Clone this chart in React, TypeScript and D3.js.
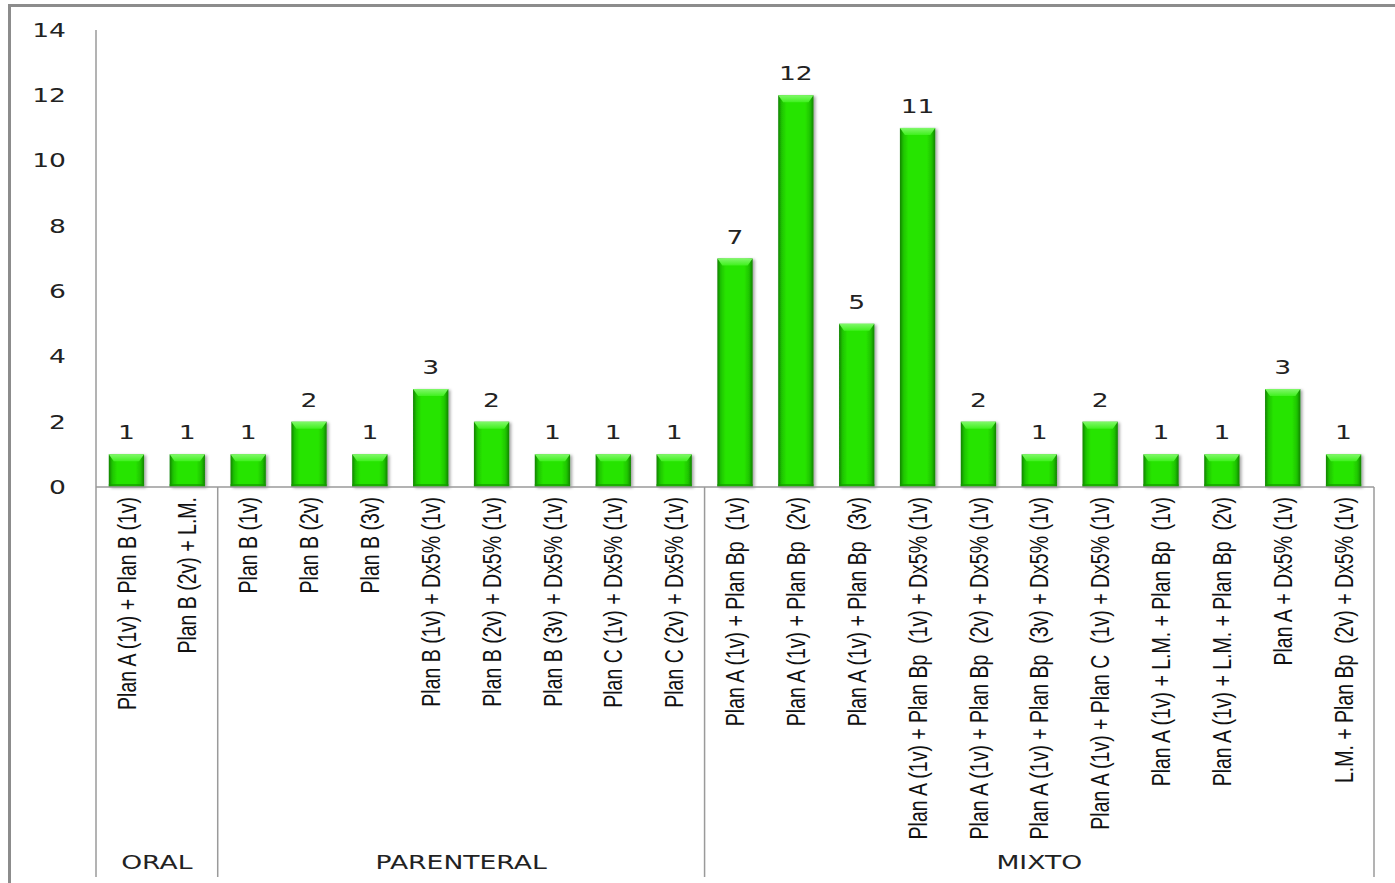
import React from "react";
import * as d3 from "d3";

const categories = [
  "Plan A (1v) + Plan B (1v)",
  "Plan B (2v) + L.M.",
  "Plan B (1v)",
  "Plan B (2v)",
  "Plan B (3v)",
  "Plan B (1v) + Dx5% (1v)",
  "Plan B (2v) + Dx5% (1v)",
  "Plan B (3v) + Dx5% (1v)",
  "Plan C (1v) + Dx5% (1v)",
  "Plan C (2v) + Dx5% (1v)",
  "Plan A (1v) + Plan Bp  (1v)",
  "Plan A (1v) + Plan Bp  (2v)",
  "Plan A (1v) + Plan Bp  (3v)",
  "Plan A (1v) + Plan Bp  (1v) + Dx5% (1v)",
  "Plan A (1v) + Plan Bp  (2v) + Dx5% (1v)",
  "Plan A (1v) + Plan Bp  (3v) + Dx5% (1v)",
  "Plan A (1v) + Plan C  (1v) + Dx5% (1v)",
  "Plan A (1v) + L.M. + Plan Bp  (1v)",
  "Plan A (1v) + L.M. + Plan Bp  (2v)",
  "Plan A + Dx5% (1v)",
  "L.M. + Plan Bp  (2v) + Dx5% (1v)",
];
const values = [1, 1, 1, 2, 1, 3, 2, 1, 1, 1, 7, 12, 5, 11, 2, 1, 2, 1, 1, 3, 1];
const groupNames = ["ORAL", "PARENTERAL", "MIXTO"];
const groupSizes = [2, 8, 11];
const yTicks = [0, 2, 4, 6, 8, 10, 12, 14];

const W = 1395;
const H = 883;
const left = 96;
const right = 1374;
const top = 30;
const base = 487;
const bottom = 877;
const SX = 1.4;

export default function App() {
  const x = d3
    .scaleBand<number>()
    .domain(d3.range(categories.length))
    .range([left, right])
    .paddingInner(0.42)
    .paddingOuter(0.21);
  const y = d3.scaleLinear().domain([0, 14]).range([base, top]);
  const step = x.step();

  const groupBounds: { name: string; start: number; end: number }[] = [];
  let acc = 0;
  groupNames.forEach((g, i) => {
    const s = acc;
    acc += groupSizes[i];
    groupBounds.push({ name: g, start: left + s * step, end: left + acc * step });
  });

  const numFont = "'DejaVu Sans', Verdana, sans-serif";
  const catFont = "'Liberation Sans Narrow', 'Arial Narrow', sans-serif";

  return (
    <svg
      width={W}
      height={H}
      style={{ position: "absolute", left: 0, top: 0, background: "#fff" }}
    >
      <defs>
        <linearGradient id="barGrad" x1="0" x2="1" y1="0" y2="0">
          <stop offset="0%" stopColor="#118200" />
          <stop offset="10%" stopColor="#1ec400" />
          <stop offset="24%" stopColor="#28e406" />
          <stop offset="76%" stopColor="#28e406" />
          <stop offset="90%" stopColor="#1ec400" />
          <stop offset="100%" stopColor="#118200" />
        </linearGradient>
        <linearGradient id="topGrad" x1="0" x2="0" y1="0" y2="1">
          <stop offset="0%" stopColor="#80f86a" />
          <stop offset="100%" stopColor="#3ff01e" />
        </linearGradient>
        <filter id="shadow" x="-20%" y="-5%" width="150%" height="115%">
          <feDropShadow dx="2" dy="1" stdDeviation="1.5" floodColor="#000" floodOpacity="0.35" />
        </filter>
      </defs>

      {/* outer frame */}
      <rect x={9.5} y={5.5} width={1450} height={950} fill="none" stroke="#8c8c8c" strokeWidth={3} />

      {/* y tick labels */}
      {yTicks.map((t) => (
        <g key={t} transform={`translate(66,${y(t)}) scale(${SX},1)`}>
          <text textAnchor="end" dy="0.36em" fontFamily={numFont} fontSize={19} fill="#222">
            {t}
          </text>
        </g>
      ))}

      {/* bars */}
      {values.map((v, i) => {
        const bx = x(i)!;
        const bw = x.bandwidth();
        const by = y(v);
        const bh = base - by;
        const bev = Math.min(7, bh / 2);
        return (
          <g key={i}>
            <rect x={bx} y={by} width={bw} height={bh} fill="url(#barGrad)" filter="url(#shadow)" />
            <path
              d={`M${bx},${by} L${bx + bw},${by} L${bx + bw - 5},${by + bev} L${bx + 5},${by + bev} Z`}
              fill="url(#topGrad)"
            />
            <rect x={bx} y={base - 3} width={bw} height={3} fill="#159a00" opacity={0.7} />
            <g transform={`translate(${bx + bw / 2},${by - 15}) scale(${SX},1)`}>
              <text textAnchor="middle" fontFamily={numFont} fontSize={19} fill="#222">
                {v}
              </text>
            </g>
          </g>
        );
      })}

      {/* axes */}
      <line x1={left} x2={left} y1={top} y2={bottom} stroke="#9a9a9a" strokeWidth={1.5} />
      <line x1={left} x2={right} y1={base} y2={base} stroke="#9a9a9a" strokeWidth={1.5} />
      {groupBounds.map((g) => (
        <line key={g.name} x1={g.end} x2={g.end} y1={base} y2={bottom} stroke="#9a9a9a" strokeWidth={1.5} />
      ))}

      {/* category labels */}
      {categories.map((c, i) => (
        <g key={c} transform={`translate(${x(i)! + x.bandwidth() / 2},${base + 10}) scale(1.3,1) rotate(-90)`}>
          <text
            textAnchor="end"
            dy="0.36em"
            fontFamily={catFont}
            fontSize={19.5}
            fill="#111"
            style={{ whiteSpace: "pre" }}
          >
            {c}
          </text>
        </g>
      ))}

      {/* group labels */}
      {groupBounds.map((g) => (
        <g key={g.name} transform={`translate(${(g.start + g.end) / 2},869) scale(${SX},1)`}>
          <text textAnchor="middle" fontFamily={numFont} fontSize={19} fill="#222">
            {g.name}
          </text>
        </g>
      ))}
    </svg>
  );
}
